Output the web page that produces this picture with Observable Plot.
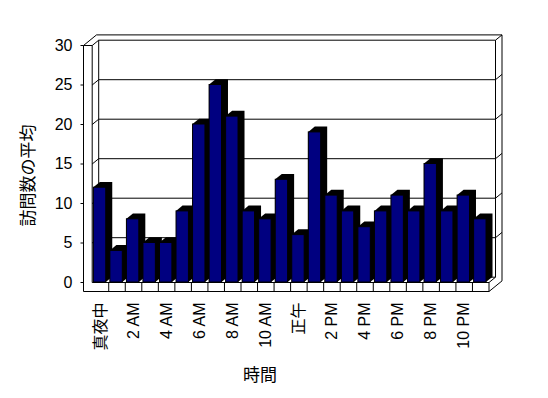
<!DOCTYPE html>
<html><head><meta charset="utf-8">
<script src="https://cdn.jsdelivr.net/npm/d3@7"></script>
<script src="https://cdn.jsdelivr.net/npm/@observablehq/plot@0.6"></script>
<style>html,body{margin:0;padding:0;background:#fff}</style>
</head><body><div id="chart"></div>
<script>
// ---- data ----
const categories = ["真夜中","1 AM","2 AM","3 AM","4 AM","5 AM","6 AM","7 AM","8 AM","9 AM","10 AM","11 AM",
                    "正午","1 PM","2 PM","3 PM","4 PM","5 PM","6 PM","7 PM","8 PM","9 PM","10 PM","11 PM"];
const values = [12,4,8,5,5,9,20,25,21,9,8,13,6,19,11,9,7,9,11,9,15,9,11,8];
const yTicks = [0,5,10,15,20,25,30];
const xTickIndex = [0,2,4,6,8,10,12,14,16,18,20,22];
const yTitle = "訪問数の平均";
const xTitle = "時間";

// ---- layout ----
const W = 548, H = 398, ML = 91.7, MR = 59.5, MT = 45, MB = 116;
const N = categories.length, YMAX = 30;
const XU = (W - ML - MR) / N, YU = (H - MT - MB) / YMAX;
const DX = 6.5 / XU, DY = 5.3 / YU;      // depth offset in data units
const WALL = 8.7 / XU, FLOOR = 9 / YU;   // wall / floor thickness
const B1 = 0.1, B2 = 0.85;               // bar front face within band

const P = (x, y, k = 0) => [x + k * DX, y + k * DY];
const segs = [];
const S = (a, b) => segs.push({x1: a[0], y1: a[1], x2: b[0], y2: b[1]});
// left wall
S(P(-WALL, YMAX), P(-WALL, -FLOOR));
S(P(0, YMAX), P(0, 0));
S(P(-WALL, YMAX), P(0, YMAX));
S(P(-WALL, YMAX), P(-WALL, YMAX, 2));
S(P(0, YMAX), P(0, YMAX, 1));
// back wall
S(P(-WALL, YMAX, 2), P(N, YMAX, 2));
S(P(0, YMAX, 1), P(N, YMAX, 1));
S(P(0, YMAX, 1), P(0, 0, 1));
S(P(N, YMAX, 1), P(N, 0, 1));
S(P(N, YMAX, 1), P(N, YMAX, 2));
S(P(N, YMAX, 2), P(N, -FLOOR, 2));
for (const v of yTicks.filter(t => t > 0 && t < YMAX)) {
  S(P(0, v, 1), P(N, v, 1));
  S(P(0, v, 0), P(0, v, 1));
  S(P(N, v, 1), P(N, v, 2));
}
// floor
S(P(0, 0, 1), P(N, 0, 1));
S(P(0, 0, 0), P(N, 0, 0));
S(P(-WALL, -FLOOR), P(N, -FLOOR));
S(P(N, 0), P(N, -FLOOR));
S(P(N, 0), P(N, 0, 1));
S(P(N, -FLOOR), P(N, -FLOOR, 2));
for (let i = 1; i < N; i++) S(P(i, 0), P(i, -FLOOR));
// y ticks
for (const v of yTicks) S(P(-WALL - 3 / XU, v), P(-WALL, v));

const bars = values.map((v, i) => ({i, v, x1: i + B1, x2: i + B2}));
const shadow = bars.flatMap(b => [
  {i: b.i, x: b.x1,      y1: 0,  y2: b.v},
  {i: b.i, x: b.x1 + DX, y1: 0,  y2: b.v + DY},
  {i: b.i, x: b.x2,      y1: 0,  y2: b.v + DY},
  {i: b.i, x: b.x2 + DX, y1: DY, y2: b.v + DY}
]);

const font = "'Liberation Sans', Arial, 'Noto Sans CJK JP', sans-serif";
const chart = Plot.plot({
  width: W, height: H,
  marginLeft: ML, marginRight: MR, marginTop: MT, marginBottom: MB,
  x: {type: "linear", domain: [0, N], axis: null},
  y: {type: "linear", domain: [0, YMAX], axis: null},
  style: {fontFamily: font, background: "white", color: "black", fontSize: "16px"},
  marks: [
    Plot.link(segs, {x1: "x1", y1: "y1", x2: "x2", y2: "y2", stroke: "black", strokeWidth: 1}),
    Plot.areaY(shadow, {x: "x", y1: "y1", y2: "y2", z: "i", fill: "black", curve: "linear"}),
    Plot.rect(bars, {x1: "x1", x2: "x2", y1: 0, y2: "v", fill: "#000080", stroke: "black", strokeWidth: 1}),
    Plot.text(yTicks, {x: -WALL, y: d => d, text: d => String(d), dx: -11, textAnchor: "end", fontSize: 16, fill: "black"}),
    Plot.text(xTickIndex, {x: d => d + 0.5, text: d => categories[d], frameAnchor: "bottom", dy: 20,
      rotate: -90, textAnchor: "end", lineAnchor: "middle", fontSize: 16, fill: "black"}),
    Plot.text([yTitle], {text: d => d, frameAnchor: "left", dx: -63.7, dy: 11.5, rotate: -90,
      textAnchor: "middle", lineAnchor: "middle", fontSize: 17, fill: "black"}),
    Plot.text([xTitle], {text: d => d, frameAnchor: "bottom", dx: -30.6, dy: 93,
      textAnchor: "middle", lineAnchor: "middle", fontSize: 17, fill: "black"})
  ]
});
document.getElementById("chart").appendChild(chart);
</script>
</body></html>
